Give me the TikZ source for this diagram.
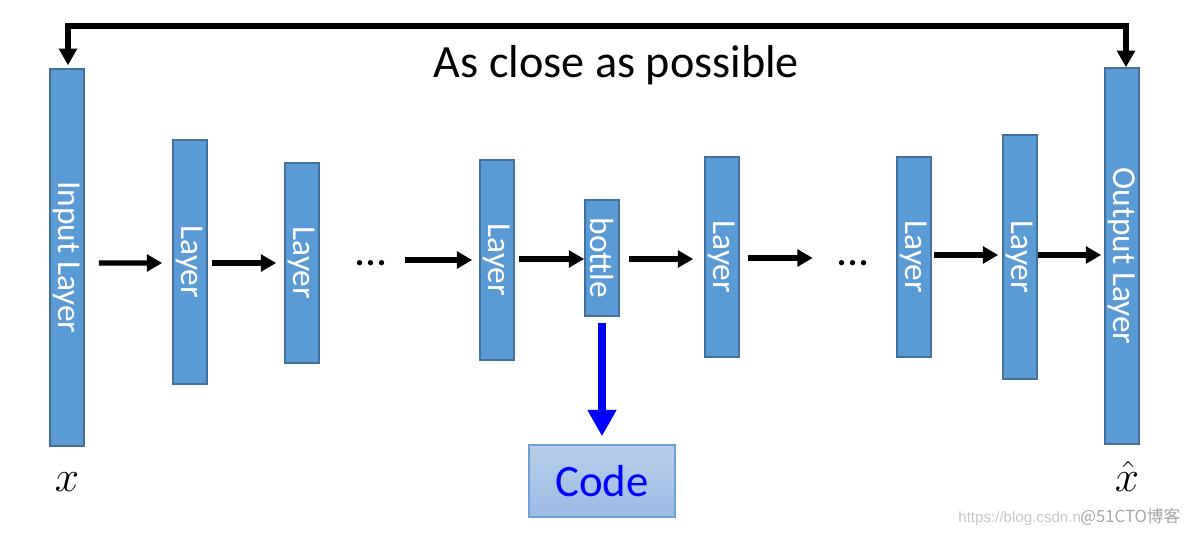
\documentclass[tikz,border=0pt]{standalone}
\usepackage{fontspec}
\setmainfont{Carlito}
\newfontfamily\wmsans{Liberation Sans}
\newfontfamily\wmcjk{Noto Sans CJK SC}
\usetikzlibrary{arrows.meta,calc}
\definecolor{boxfill}{HTML}{5B9BD5}
\definecolor{boxline}{HTML}{41719C}
\definecolor{codetop}{HTML}{B6CEEA}
\definecolor{codebot}{HTML}{9CBCE4}
\definecolor{codeline}{HTML}{6FA1D6}
\definecolor{pureblue}{RGB}{0,0,255}
\tikzset{
  blk/.style={draw=boxline, line width=0.9pt, fill=boxfill, inner sep=0pt,
    minimum width=0.68cm, text=white,
    font=\fontsize{19}{22}\selectfont},
  arr/.style={line width=2.9pt, -{Triangle[length=8.8pt,width=9.5pt]}},
  fb/.style={line width=3.3pt, {Triangle[length=9.5pt,width=10pt]}-{Triangle[length=9.5pt,width=10pt]}},
  bluearr/.style={draw=pureblue, line width=4.6pt, -{Triangle[length=15pt,width=15.5pt]}},
  dotsnode/.style={font=\fontsize{25}{28}\selectfont, inner sep=0pt, anchor=base},
}
\begin{document}
\begin{tikzpicture}[x=0.02cm, y=-0.02cm]
\useasboundingbox (0,0) rectangle (1184,534);

% layer boxes
\node[blk, minimum height=7.54cm] (in) at (67,257.5) {\rotatebox{-90}{Input Layer}};
\node[blk, minimum height=4.88cm] (L1) at (190,262) {\rotatebox{-90}{Layer}};
\node[blk, minimum height=4.00cm] (L2) at (302,263) {\rotatebox{-90}{Layer}};
\node[blk, minimum height=4.00cm] (L3) at (497,260) {\rotatebox{-90}{Layer}};
\node[blk, minimum height=2.32cm] (bot) at (602,258) {\rotatebox{-90}{bottle}};
\node[blk, minimum height=4.00cm] (L4) at (722,257) {\rotatebox{-90}{Layer}};
\node[blk, minimum height=4.00cm] (L5) at (914,257) {\rotatebox{-90}{Layer}};
\node[blk, minimum height=4.88cm] (L6) at (1020,257) {\rotatebox{-90}{Layer}};
\node[blk, minimum height=7.52cm] (out) at (1122,256) {\rotatebox{-90}{Output Layer}};

% dots
\node[dotsnode] (d1) at (371,265) {...};
\node[dotsnode] (d2) at (853,265) {...};

% code box
\node[draw=codeline, line width=0.8pt, top color=codetop, bottom color=codebot,
      minimum width=2.92cm, minimum height=1.44cm, inner sep=0pt,
      text=pureblue, font=\fontsize{25.5}{30}\selectfont] (code) at (602,481) {Code};

% labels
\node[anchor=base, inner sep=0pt, font=\fontsize{24}{28}\selectfont] (xl) at (67,491) {$x$};
\node[anchor=base, inner sep=0pt, font=\fontsize{24}{28}\selectfont] (xh) at (1127,491) {$\hat{x}$};
\node[anchor=base, inner sep=0pt, font=\fontsize{26.3}{30}\selectfont] (title) at (616.5,77) {As close as possible};

% horizontal arrows
\draw[arr] ($(in.east)+(14,5.5)$) -- ($(L1.west)+(-10,1)$);
\draw[arr] ($(L1.east)+(4,1)$) -- ($(L2.west)+(-8,0)$);
\draw[arr] ($(L3.west)+(-74,0)$) -- ($(L3.west)+(-7,0)$);
\draw[arr] ($(L3.east)+(4,-1)$) -- ($(bot.west)+(0,1)$);
\draw[arr] ($(bot.east)+(9,1)$) -- ($(L4.west)+(-11,2)$);
\draw[arr] ($(L4.east)+(8,1)$) -- ($(L4.east)+(73,1)$);
\draw[arr] ($(L5.east)+(2,-2)$) -- ($(L6.west)+(-4,-2)$);
\draw[arr] ($(L6.east)+(0,-2)$) -- ($(out.west)+(-3,-1)$);

% feedback arrow
\draw[fb] ($(in.north)+(1,-3)$) |- ($(out.north)+(4,-41)$) -- ($(out.north)+(4,0)$);

% blue arrow to code
\draw[bluearr] ($(bot.south)+(0,6)$) -- ($(code.north)+(0,-8)$);

% watermark
\node[anchor=base west, inner sep=0pt, text=black!22, font=\wmsans\fontsize{8.6}{10}\selectfont] (wm1) at (958,522) {https://blog.csdn.n};
\node[anchor=base west, inner sep=0pt, text=black!35, font=\wmcjk\fontsize{9.5}{11}\selectfont] (wm2) at (1080,522) {@51CTO博客};
\end{tikzpicture}
\end{document}
